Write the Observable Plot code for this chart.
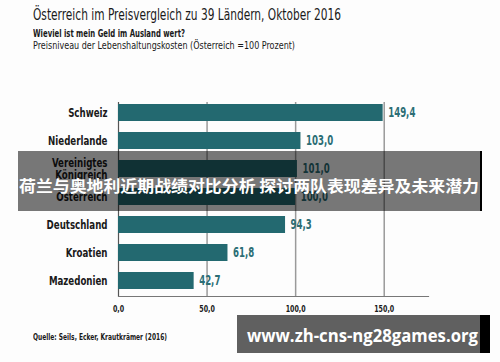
<!DOCTYPE html>
<html>
<head>
<meta charset="utf-8">
<script src="https://cdn.jsdelivr.net/npm/d3@7"></script>
<script src="https://cdn.jsdelivr.net/npm/@observablehq/plot@0.6"></script>
<style>
  html, body { margin: 0; padding: 0; background: #ffffff; }
  #wrap { position: relative; width: 500px; height: 362px; overflow: hidden; background: #fdfdfd; }
  .cond { font-family: "Liberation Sans Narrow", "DejaVu Sans Condensed", "Roboto Condensed", sans-serif; font-stretch: condensed; color: #1a1a1a; transform-origin: 0 50%; }
  #title { position: absolute; left: 33px; top: 6px; font-size: 15.5px; white-space: nowrap; }
  #sub1 { position: absolute; left: 33px; top: 27px; font-size: 10.5px; font-weight: bold; white-space: nowrap; }
  #sub2 { position: absolute; left: 33px; top: 39px; font-size: 10.5px; white-space: nowrap; }
  #chart { position: absolute; left: 0; top: 60px; }
  #caption { position: absolute; left: 33px; top: 332px; font-size: 9px; font-weight: bold; white-space: nowrap; }
  #overlay { position: absolute; left: 0; top: 0; pointer-events: none; }
</style>
</head>
<body>
<div id="wrap">
  <div id="title" class="cond">Österreich im Preisvergleich zu 39 Ländern, Oktober 2016</div>
  <div id="sub1" class="cond">Wieviel ist mein Geld im Ausland wert?</div>
  <div id="sub2" class="cond">Preisniveau der Lebenshaltungskosten (Österreich =100 Prozent)</div>
  <div id="chart"></div>
  <div id="caption" class="cond">Quelle: Seils, Ecker, Krautkrämer (2016)</div>
</div>
<script>
const countries = ["Schweiz", "Niederlande", "Vereinigtes Königreich", "Österreich", "Deutschland", "Kroatien", "Mazedonien"];
const values = [149.4, 103.0, 101.0, 100.0, 94.3, 61.8, 42.7];
const xTicks = [0, 50, 100, 150];
const bannerText = "荷兰与奥地利近期战绩对比分析 探讨两队表现差异及未来潜力";
const watermarkText = "www.zh-cns-ng28games.org";

const rows = countries.map((c, i) => ({country: c, value: values[i]}));
const fmt = v => v.toFixed(1).replace(".", ",");
const condFont = '"Liberation Sans Narrow", "DejaVu Sans Condensed", "Roboto Condensed", sans-serif';

const chart = Plot.plot({
  width: 500,
  height: 260,
  marginLeft: 118,
  marginRight: 72,
  marginTop: 36,
  marginBottom: 24,
  style: {fontFamily: condFont, background: "transparent", color: "#1a1a1a"},
  x: {domain: [0, 175]},
  y: {domain: countries, paddingInner: 0.41, paddingOuter: 0.2},
  marks: [
    Plot.ruleX(xTicks.filter(d => d > 0), {stroke: "#9a9a9a", strokeWidth: 1.5, insetTop: 6}),
    Plot.ruleX([0], {stroke: "#555", strokeWidth: 1.2, insetTop: 6}),
    Plot.frame({anchor: "bottom", stroke: "#777", strokeWidth: 1.2}),
    Plot.barX(rows, {x: "value", y: "country", fill: "#236970"}),
    Plot.text(rows, {x: "value", y: "country", text: d => fmt(d.value), dx: 5, textAnchor: "start",
      fill: "#2c6e75", fontWeight: "bold", fontSize: 13.5, className: "vlabels"}),
    Plot.axisX({ticks: xTicks, tickSize: 0, tickPadding: 9, tickFormat: fmt, fontWeight: "bold", fontSize: 9.5, label: null}),
    Plot.axisY({tickSize: 0, tickPadding: 11, fontWeight: "bold", fontSize: 12.5, label: null,
      tickFormat: d => d === "Vereinigtes Königreich" ? "Vereinigtes\nKönigreich" : d})
  ]
});
document.getElementById("chart").appendChild(chart);

// horizontally condense chart texts (the reference uses a condensed typeface)
function squeeze(selector, k) {
  chart.querySelectorAll(selector).forEach(t => {
    const tr = t.getAttribute("transform") || "";
    t.setAttribute("transform", tr + ` scale(${k},1)`);
  });
}
squeeze('g[aria-label="y-axis tick label"] text', 0.77);
squeeze('g[aria-label="x-axis tick label"] text', 0.74);
squeeze('g.vlabels text, .vlabels text', 0.71);

// fit HTML title / subtitle / caption widths
function fit(id, w) {
  const e = document.getElementById(id);
  const cur = e.getBoundingClientRect().width;
  e.style.transform = `scaleX(${w / cur})`;
}
fit("title", 308);
fit("sub1", 152);
fit("sub2", 262);
fit("caption", 134);

// overlays (banner + watermark) as in the reference picture
const ns = "http://www.w3.org/2000/svg";
const ov = document.createElementNS(ns, "svg");
ov.setAttribute("id", "overlay");
ov.setAttribute("width", 500);
ov.setAttribute("height", 362);
function el(tag, attrs, txt) {
  const e = document.createElementNS(ns, tag);
  for (const k in attrs) e.setAttribute(k, attrs[k]);
  if (txt) e.textContent = txt;
  ov.appendChild(e);
  return e;
}
el("rect", {x: 18, y: 151, width: 462, height: 60, fill: "rgba(0,0,0,0.53)"});
el("rect", {x: 480, y: 151, width: 2, height: 60, fill: "#000"});
el("text", {x: 249, y: 192, "text-anchor": "middle", fill: "#fff", "font-size": 16, "font-weight": "bold",
  "font-family": '"Noto Sans CJK SC", sans-serif', textLength: 460, lengthAdjust: "spacingAndGlyphs"}, bannerText);
el("rect", {x: 237, y: 315, width: 243, height: 38, fill: "rgba(0,0,0,0.62)"});
el("rect", {x: 480, y: 315, width: 10, height: 38, fill: "#000"});
el("text", {x: 247, y: 342, fill: "#fff", "font-size": 17, "font-weight": "bold",
  "font-family": '"Open Sans", "DejaVu Sans", sans-serif', textLength: 231, lengthAdjust: "spacingAndGlyphs"}, watermarkText);
document.getElementById("wrap").appendChild(ov);
</script>
</body>
</html>
